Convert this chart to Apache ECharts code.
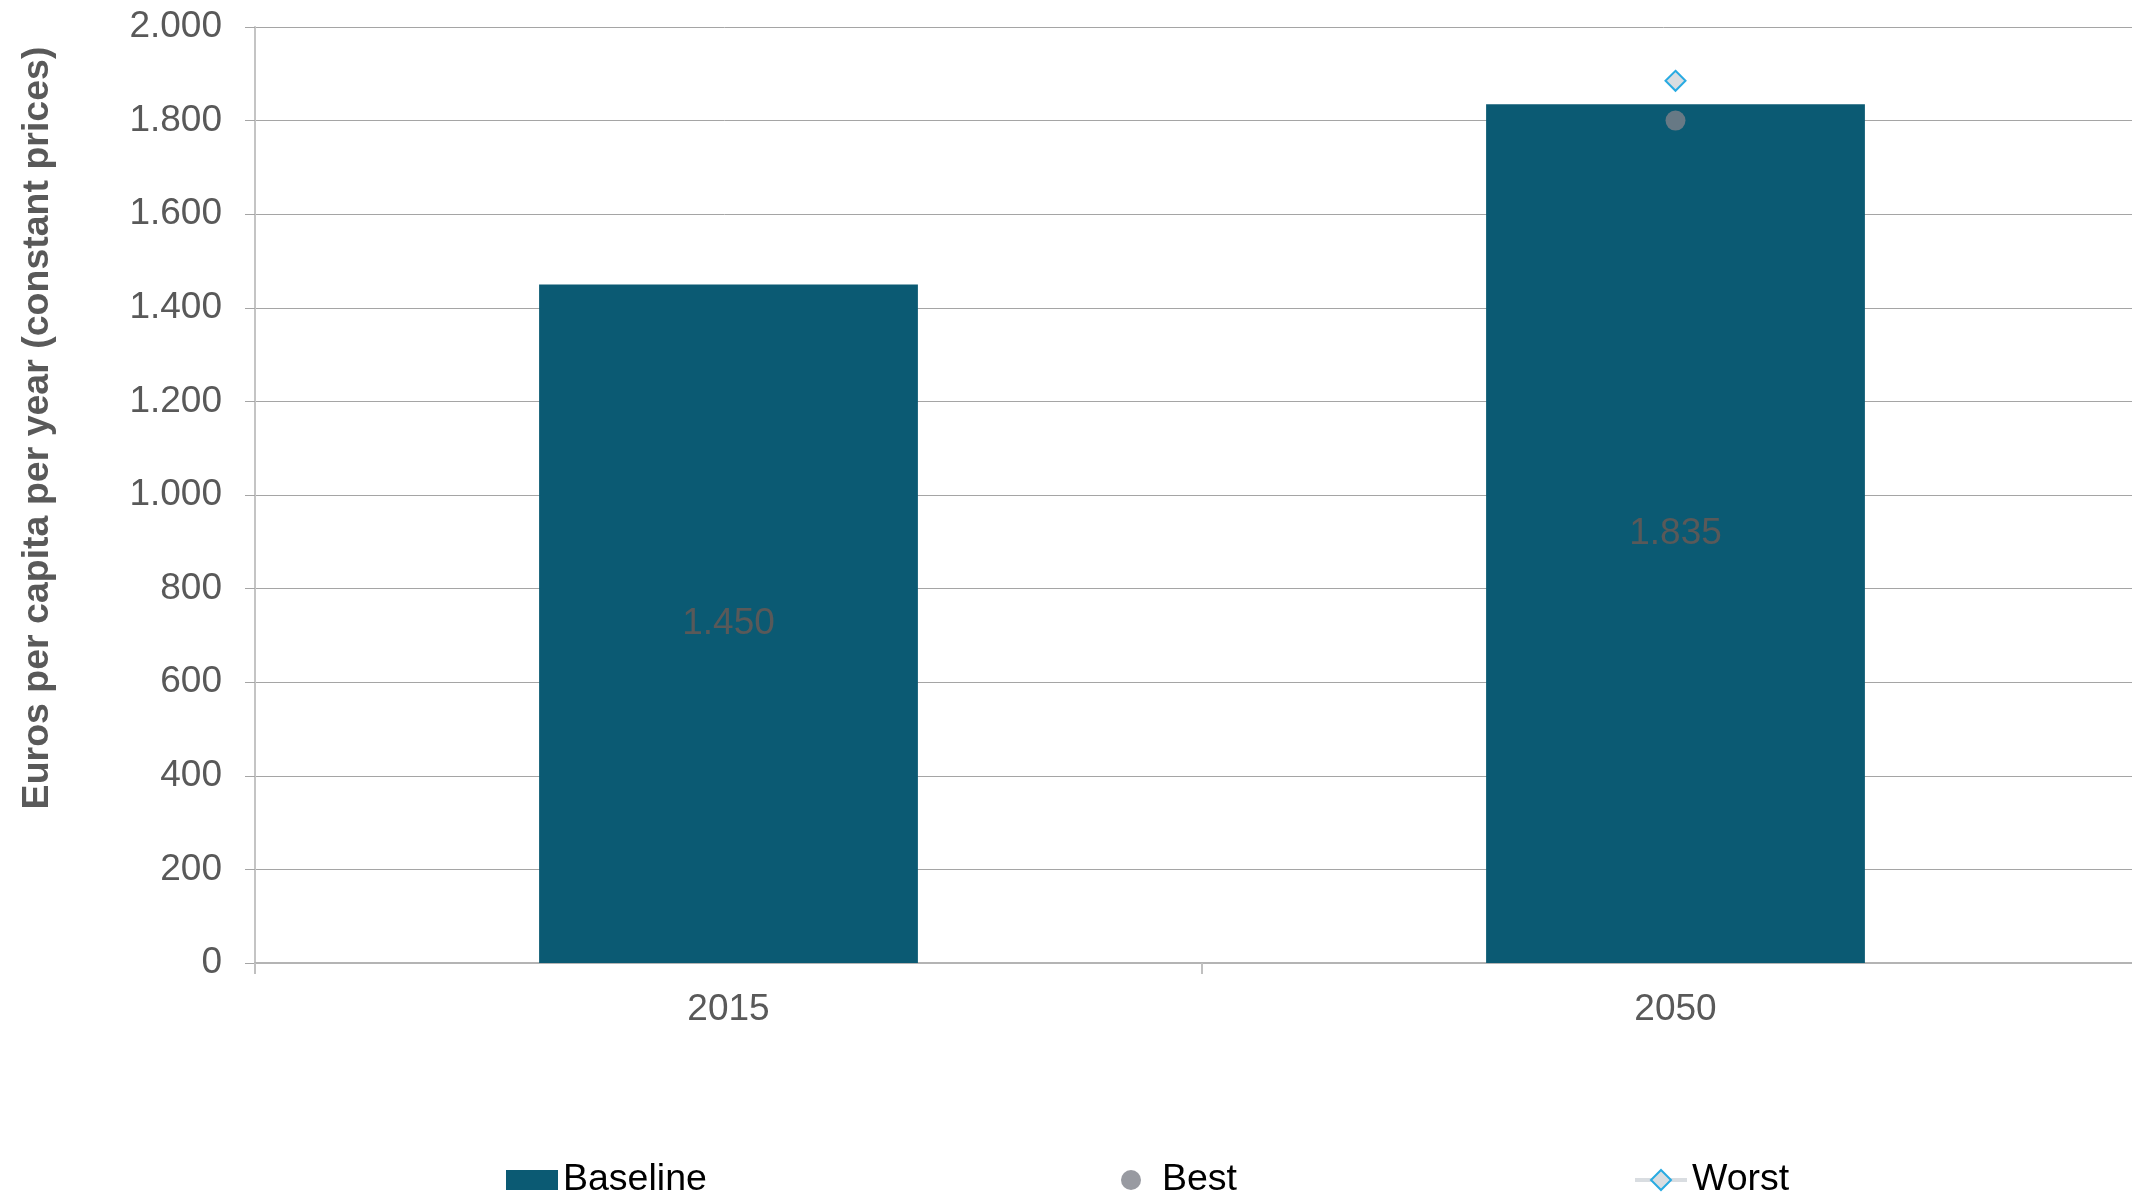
<!DOCTYPE html>
<html>
<head>
<meta charset="utf-8">
<script src="https://cdn.jsdelivr.net/npm/echarts@6/dist/echarts.min.js"></script>
<style>
html,body{margin:0;padding:0;background:#fff;}
#chart{width:2132px;height:1193px;}
</style>
</head>
<body>
<div id="chart"></div>
<script>
const categories = ['2015', '2050'];
const baselineValues = [1450, 1835];
const bestValues = [null, 1800];
const worstValues = [null, 1885];
const yMin = 0, yMax = 2000, yInterval = 200;
const yAxisTitle = 'Euros per capita per year (constant prices)';
const seriesNames = ['Baseline', 'Best', 'Worst'];

const FONT = '"Liberation Sans", Arial, sans-serif';
const fmt = v => String(v).replace(/\B(?=(\d{3})+(?!\d))/g, '.');

const legendBase = {
  top: 1156, itemWidth: 52, itemHeight: 20,
  textStyle: {fontFamily: FONT, fontSize: 37.5, color: '#000'}
};

const chart = echarts.init(document.getElementById('chart'), null, {renderer: 'canvas'});
chart.setOption({
  animation: false,
  backgroundColor: '#ffffff',
  textStyle: {fontFamily: FONT},
  grid: {left: 255, width: 1894, top: 27, bottom: 230, containLabel: false, outerBoundsMode: 'none'},
  legend: [
    Object.assign({}, legendBase, {left: 501, data: [{name: seriesNames[0], icon: 'rect'}]}),
    Object.assign({}, legendBase, {left: 1116, data: [{name: seriesNames[1]}]}),
    Object.assign({}, legendBase, {left: 1628, itemHeight: 25, data: [{name: seriesNames[2], lineStyle: {width: 4, color: '#d9dde1'}}]})
  ],
  xAxis: {
    type: 'category',
    data: categories,
    axisLine: {show: true, lineStyle: {color: '#b4b4b4', width: 2}},
    axisTick: {show: true, length: 11, lineStyle: {color: '#c0c0c0', width: 2}},
    axisLabel: {fontFamily: FONT, fontSize: 37, color: '#595959', margin: 28},
    splitLine: {show: false}
  },
  yAxis: {
    type: 'value',
    min: yMin, max: yMax, interval: yInterval,
    name: yAxisTitle,
    nameLocation: 'middle',
    nameGap: 198,
    nameTextStyle: {fontFamily: FONT, fontSize: 37.5, fontWeight: 'bold', color: '#595959', padding: [0, 0, 0, 134]},
    axisLine: {show: true, lineStyle: {color: '#c4c4c4', width: 2}},
    axisTick: {show: true, inside: false, length: 10, lineStyle: {color: '#a5a5a5'}},
    axisLabel: {fontFamily: FONT, fontSize: 37, color: '#595959', margin: 33, formatter: fmt},
    splitLine: {show: true, lineStyle: {color: '#a5a5a5', width: 1}}
  },
  series: [
    {
      name: seriesNames[0],
      type: 'bar',
      data: baselineValues,
      barWidth: '40%',
      itemStyle: {color: '#0b5a73'},
      label: {show: true, position: 'inside', fontFamily: FONT, fontSize: 37, color: '#595959', formatter: p => fmt(p.value)}
    },
    {
      name: seriesNames[1],
      type: 'scatter',
      data: bestValues,
      symbol: 'circle',
      symbolSize: 20,
      itemStyle: {color: '#7e8189'},
      z: 3
    },
    {
      name: seriesNames[2],
      type: 'line',
      data: worstValues,
      symbol: 'diamond',
      symbolSize: 20,
      showSymbol: true,
      lineStyle: {color: '#d9dde1', width: 4},
      itemStyle: {color: '#d9dde1', borderColor: '#29abe2', borderWidth: 2},
      z: 4
    }
  ]
});
</script>
</body>
</html>
